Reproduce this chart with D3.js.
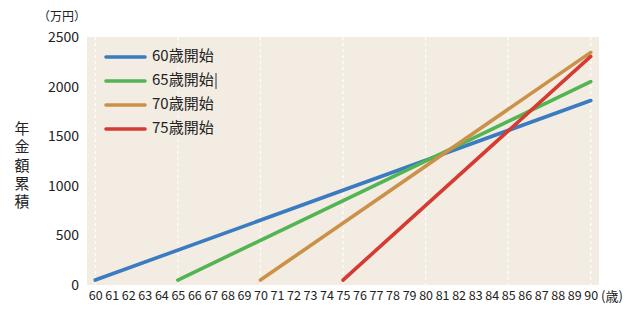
<!DOCTYPE html>
<html>
<head>
<meta charset="utf-8">
<script src="https://cdn.jsdelivr.net/npm/d3@7"></script>
<style>
  body { margin: 0; background: #fff; }
  svg text { font-family: "Noto Sans CJK JP", "Noto Sans", sans-serif; fill: #222; }
</style>
</head>
<body>
<div id="chart"></div>
<script>
// ages on the x axis
var ages = d3.range(60, 91);
var gridAges = [60, 65, 70, 75, 80, 85, 90];
var yTicks = [0, 500, 1000, 1500, 2000, 2500];

// each series is a straight line: [age, cumulative amount]
var seriesNames = ["60歳開始", "65歳開始", "70歳開始", "75歳開始"];
var startAge = [60, 65, 70, 75];
var startValue = [50, 50, 50, 50];
var endValue = [1860, 2050, 2345, 2305];
var colors = ["#3b7bbf", "#52b452", "#cc9148", "#d63a30"];

function drawChart() {
	var width = 640;
	var height = 320;

	var svg = d3.select("#chart")
		.append("svg")
		.attr("width", width)
		.attr("height", height);

	var x = d3.scalePoint()
		.domain(ages)
		.range([87, 599])
		.padding(0.5);

	var y = d3.scaleLinear()
		.domain([0, 2500])
		.range([285, 37]);

	// plot background
	svg.append("rect")
		.attr("x", 87)
		.attr("y", 37)
		.attr("width", 512)
		.attr("height", 248)
		.attr("fill", "#f3ece3");

	// dashed vertical grid
	svg.selectAll(".grid")
		.data(gridAges)
		.enter().append("line")
		.attr("x1", function(d) { return x(d); })
		.attr("x2", function(d) { return x(d); })
		.attr("y1", 37)
		.attr("y2", 285)
		.attr("stroke", "#fff")
		.attr("stroke-width", 1.2)
		.attr("stroke-dasharray", "3,3");

	// y axis
	var yAxis = svg.append("g")
		.attr("transform", "translate(87,0)")
		.call(d3.axisLeft(y).tickValues(yTicks).tickFormat(d3.format("d")).tickSize(0).tickPadding(8));
	yAxis.select(".domain").remove();
	yAxis.selectAll("text")
		.style("font-size", "14px")
		.attr("fill", "#222");

	// x axis
	var xAxis = svg.append("g")
		.attr("transform", "translate(0,285)")
		.call(d3.axisBottom(x).tickSize(0).tickPadding(6));
	xAxis.select(".domain").remove();
	xAxis.selectAll("text")
		.style("font-size", "12.5px")
		.attr("fill", "#222");

	// units
	svg.append("text")
		.attr("x", 62)
		.attr("y", 18)
		.attr("text-anchor", "middle")
		.attr("dominant-baseline", "middle")
		.style("font-size", "12px")
		.text("（万円）");

	svg.append("text")
		.attr("x", 601)
		.attr("y", 297)
		.attr("dominant-baseline", "middle")
		.style("font-size", "13px")
		.text("(歳)");

	// vertical y title
	svg.append("text")
		.attr("x", 22)
		.attr("y", 121)
		.style("writing-mode", "vertical-rl")
		.style("font-size", "15px")
		.style("letter-spacing", "3.2px")
		.text("年金額累積");

	// lines
	var series = seriesNames.map(function(name, i) {
		return {
			name: name,
			color: colors[i],
			values: [[startAge[i], startValue[i]], [90, endValue[i]]]
		};
	});

	var line = d3.line()
		.x(function(d) { return x(d[0]); })
		.y(function(d) { return y(d[1]); });

	svg.selectAll(".series")
		.data(series)
		.enter().append("path")
		.attr("d", function(d) { return line(d.values); })
		.attr("fill", "none")
		.attr("stroke", function(d) { return d.color; })
		.attr("stroke-width", 3.6)
		.attr("stroke-linecap", "round");

	// legend
	var legend = svg.selectAll(".legend")
		.data(series)
		.enter().append("g")
		.attr("transform", function(d, i) { return "translate(106," + (57 + i * 24) + ")"; });

	legend.append("line")
		.attr("x1", 0)
		.attr("x2", 39)
		.attr("stroke", function(d) { return d.color; })
		.attr("stroke-width", 3.6)
		.attr("stroke-linecap", "round");

	legend.append("text")
		.attr("x", 46)
		.attr("dominant-baseline", "middle")
		.style("font-size", "15px")
		.text(function(d) { return d.name; });

	// stray text cursor seen after the second legend entry
	svg.append("line")
		.attr("x1", 216).attr("x2", 216)
		.attr("y1", 73).attr("y2", 89)
		.attr("stroke", "#333")
		.attr("stroke-width", 1);
}

drawChart();
</script>
</body>
</html>
